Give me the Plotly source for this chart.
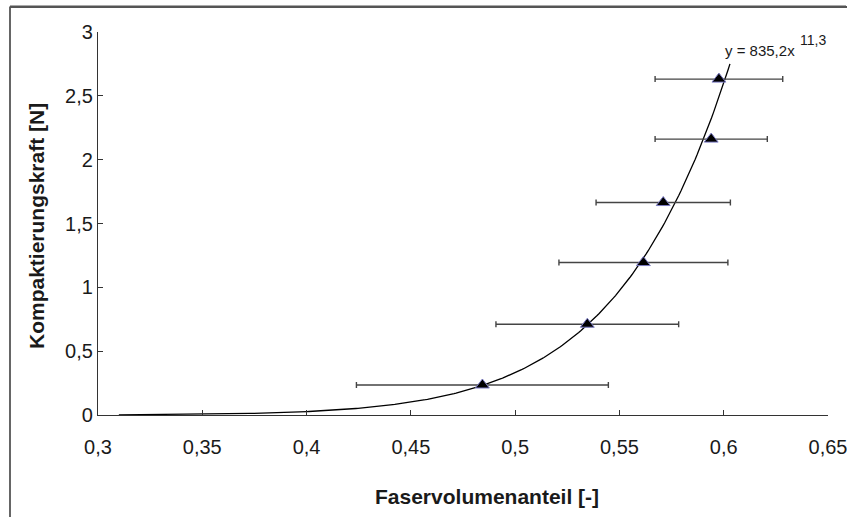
import plotly.graph_objects as go
import numpy as np

# Data
faser = [0.4843, 0.5346, 0.5615, 0.5710, 0.5940, 0.5977]
kraft = [0.235, 0.711, 1.194, 1.664, 2.161, 2.631]
faser_err = [0.0604, 0.0438, 0.0405, 0.0322, 0.0269, 0.0306]

# Trendline (power fit shown in the chart)
fit_a = 835.2
fit_b = 11.3
fit_x_start = 0.31
fit_x_end = 0.603

x_ticks = [0.3, 0.35, 0.4, 0.45, 0.5, 0.55, 0.6, 0.65]
x_ticktext = ["0,3", "0,35", "0,4", "0,45", "0,5", "0,55", "0,6", "0,65"]
y_ticks = [0, 0.5, 1, 1.5, 2, 2.5, 3]
y_ticktext = ["0", "0,5", "1", "1,5", "2", "2,5", "3"]

fx = np.linspace(fit_x_start, fit_x_end, 300)
fy = fit_a * fx ** fit_b

FONT = "Liberation Sans, Arial, sans-serif"

fig = go.Figure()
fig.add_trace(go.Scatter(x=fx, y=fy, mode="lines",
                         line=dict(color="black", width=1.3),
                         showlegend=False, hoverinfo="skip"))
fig.add_trace(go.Scatter(
    x=faser, y=kraft, mode="markers",
    marker=dict(symbol="triangle-up", size=12, color="black",
                line=dict(color="#7b7bc4", width=1)),
    error_x=dict(type="data", array=faser_err, visible=True,
                 color="#444444", thickness=1.4, width=3),
    showlegend=False))

fig.update_layout(
    template="none",
    width=847, height=518,
    margin=dict(l=98, r=19, t=32, b=103, autoexpand=False),
    paper_bgcolor="white", plot_bgcolor="white",
    font=dict(family=FONT, size=20, color="#1a1a1a"),
    xaxis=dict(range=[0.3, 0.65], tickvals=x_ticks, ticktext=x_ticktext,
               automargin=False,
               showgrid=False, zeroline=False, showline=True,
               linecolor="#333333", linewidth=1.2,
               ticks="inside", ticklen=5, tickcolor="#333333",
               ticklabelstandoff=14, ticklabeloverflow="allow"),
    yaxis=dict(range=[0, 3], tickvals=y_ticks, ticktext=y_ticktext,
               automargin=False,
               showgrid=False, zeroline=False, showline=True,
               linecolor="#333333", linewidth=1.2,
               ticks="inside", ticklen=5, tickcolor="#333333"),
    shapes=[
        dict(type="line", xref="paper", yref="paper",
             x0=(10 - 98) / 730, x1=(846 - 98) / 730,
             y0=(415 - 6.5) / 383, y1=(415 - 6.5) / 383,
             line=dict(color="#555555", width=1.8), layer="above"),
        dict(type="line", xref="paper", yref="paper",
             x0=(10 - 98) / 730, x1=(10 - 98) / 730,
             y0=(415 - 6.5) / 383, y1=(415 - 517) / 383,
             line=dict(color="#555555", width=1.8), layer="above"),
    ],
    annotations=[
        dict(text="<b>Faservolumenanteil [-]</b>", xref="paper", yref="paper",
             x=(487 - 98) / 730, y=(415 - 496) / 383,
             xanchor="center", yanchor="middle", showarrow=False,
             font=dict(size=21, family=FONT, color="#1a1a1a")),
        dict(text="<b>Kompaktierungskraft [N]</b>", xref="paper", yref="paper",
             x=(36 - 98) / 730, y=(415 - 226) / 383, textangle=-90,
             xanchor="center", yanchor="middle", showarrow=False,
             font=dict(size=21, family=FONT, color="#1a1a1a")),
        dict(text="y = 835,2x", xref="x", yref="y",
             x=0.5995, y=2.859, xanchor="left", yanchor="middle",
             showarrow=False,
             font=dict(size=15, family=FONT, color="#1a1a1a")),
        dict(text="11,3", xref="x", yref="y",
             x=0.6355, y=2.941, xanchor="left", yanchor="middle",
             showarrow=False,
             font=dict(size=14, family=FONT, color="#1a1a1a")),
    ],
)

post = (
    "document.body.style.margin='0';"
    "document.documentElement.style.overflow='hidden';"
    "var fr=document.createElement('div');"
    "fr.style.position='absolute';fr.style.left='10px';fr.style.top='6px';"
    "fr.style.width='837px';fr.style.height='0px';"
    "fr.style.borderTop='2px solid #555555';"
    "fr.style.pointerEvents='none';fr.style.zIndex='1000';"
    "document.body.appendChild(fr);"
)

fig.write_html("out.html", config={"displayModeBar": False}, post_script=post)
